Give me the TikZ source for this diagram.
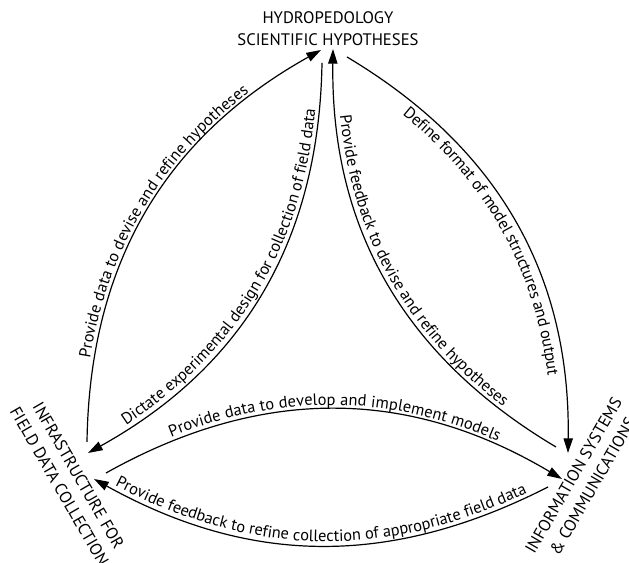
\documentclass[tikz,border=0pt]{standalone}
\usepackage{fontspec}
\setmainfont{PT Sans}
\usetikzlibrary{arrows.meta, decorations.text}

\newcommand{\lblfont}{\fontsize{12.3}{15}\selectfont}

\tikzset{
  flow/.style={-{Triangle[length=11pt,width=7pt]}, line width=0.9pt},
  place/.style={align=center, inner sep=2pt, font=\fontsize{12.5}{16.5}\selectfont},
  along/.style={decorate, decoration={text along path, text align=center,
      raise=3pt, text={|\lblfont|#1}}},
  under/.style={decorate, decoration={text along path, text align=center,
      raise=-12pt, text={|\lblfont|#1}}}
}

\begin{document}
\begin{tikzpicture}[x=0.75pt,y=0.75pt]
    \useasboundingbox (0,0) rectangle (629,563);
    % Draw the three places
    \node[place] (hyp) at (328,534) {HYDROPEDOLOGY\\SCIENTIFIC HYPOTHESES};
    \node[place, rotate=-60] (infra) at (69,82) {INFRASTRUCTURE FOR\\FIELD DATA COLLECTION};
    \node[place, rotate=60] (info) at (583,82) {INFORMATION SYSTEMS\\\& COMMUNICATIONS};

    % Arrow ends next to the places
    \coordinate (h_1) at (321,513);
    \coordinate (h_2) at (322,500);
    \coordinate (h_3) at (333,514);
    \coordinate (h_4) at (347,506);
    \coordinate (f_1) at (87,121);
    \coordinate (f_2) at (88,110);
    \coordinate (f_5) at (106,90);
    \coordinate (f_6) at (94,84);
    \coordinate (c_3) at (556,116);
    \coordinate (c_4) at (568,110);
    \coordinate (c_5) at (562,84);
    \coordinate (c_6) at (548,76);

    % Left pair
    \draw[flow] (f_1) to[bend left=30] (h_1);
    \path[along={Provide data to devise and refine hypotheses}] (f_1) to[bend left=30] (h_1);
    \draw[flow] (h_2) to[bend left=30] (f_2);
    \path[along={Dictate experimental design for collection of field data}] (f_2) to[bend right=30] (h_2);

    % Right pair
    \draw[flow] (c_3) to[bend left=30] (h_3);
    \path[along={Provide feedback to devise and refine hypotheses}] (h_3) to[bend right=30] (c_3);
    \draw[flow] (h_4) to[bend left=30] (c_4);
    \path[under={Define format of model structures and output}] (h_4) to[bend left=30] (c_4);

    % Bottom pair
    \draw[flow] (f_5) to[bend left=30] (c_5);
    \path[along={Provide data to develop and implement models}] (f_5) to[bend left=30] (c_5);
    \draw[flow] (c_6) to[bend left=28] (f_6);
    \path[along={Provide feedback to refine collection of appropriate field data}] (f_6) to[bend right=28] (c_6);
\end{tikzpicture}
\end{document}
